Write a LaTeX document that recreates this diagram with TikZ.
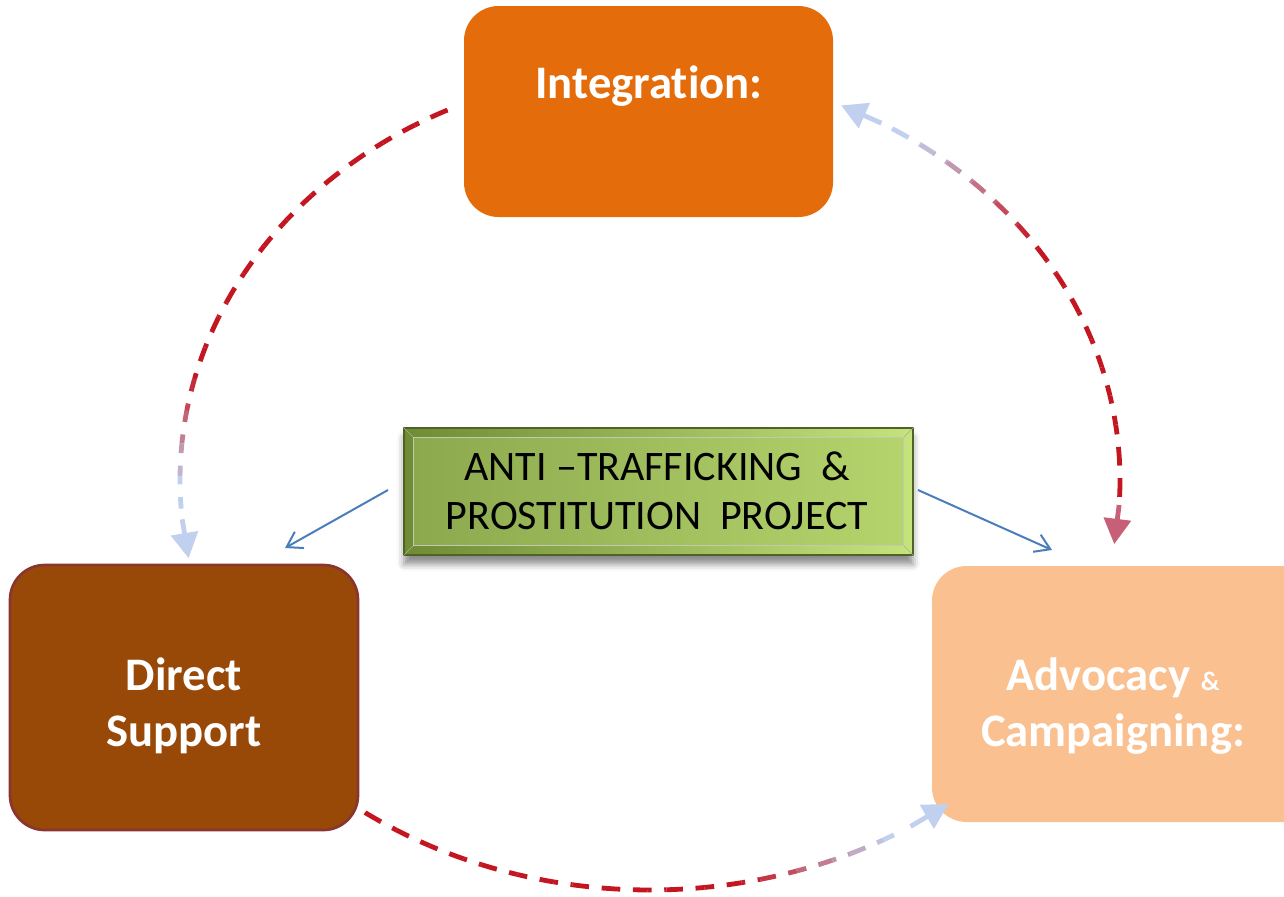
\documentclass[tikz,border=0pt]{standalone}
\usepackage{fontspec}
\setmainfont{Carlito}[Ligatures=NoCommon]
\usetikzlibrary{arrows.meta,shadows.blur,calc}
\definecolor{intorange}{HTML}{E46C0A}
\definecolor{dsbrown}{HTML}{984807}
\definecolor{dsborder}{HTML}{8A3630}
\definecolor{advpeach}{HTML}{FAC090}
\definecolor{dred}{RGB}{195,22,32}
\definecolor{lblue}{RGB}{192,208,238}
\definecolor{pinkred}{RGB}{200,95,120}
\definecolor{arblue}{HTML}{4A7EBB}
\definecolor{gdark}{HTML}{4F6228}
\definecolor{gouterL}{HTML}{6F8C35}
\definecolor{gouterR}{HTML}{C5E47C}
\definecolor{ginnerL}{HTML}{8CA94E}
\definecolor{ginnerR}{HTML}{B5D46C}
% gradient dashed elliptical arc: #1 start angle, #2 end angle, #3 s0, #4 s1, #5 direction (0 red->blue, 1 blue->red)
\newcommand\gradarc[5]{%
 \foreach \i in {0,...,29}{%
  \pgfmathsetmacro\ta{#1+(#2-(#1))*\i/30}%
  \pgfmathsetmacro\tb{#1+(#2-(#1))*(\i+1)/30}%
  \pgfmathsetmacro\sm{(\i+0.5)/30}%
  \pgfmathsetmacro\pb{min(max((\sm-#3)/(#4-#3),0),1)*100}%
  \ifnum#5=1 \pgfmathsetmacro\pb{100-\pb}\fi
  \begin{scope}
   \clip (\acx,\acy) -- ({\acx+1.6*\arx*cos(\ta)},{\acy-1.6*\ary*sin(\ta)}) -- ({\acx+1.6*\arx*cos(\tb)},{\acy-1.6*\ary*sin(\tb)}) -- cycle;
   \draw[arcline, draw=lblue!\pb!dred] plot[domain=#1:#2, samples=90] ({\acx+\arx*cos(\x)},{\acy-\ary*sin(\x)});
  \end{scope}
 }}
\begin{document}
\begin{tikzpicture}[x=0.75pt,y=-0.75pt,
  arcline/.style={line width=3.6pt, dash pattern=on 14pt off 9.5pt},
  tipline/.style={line width=3.6pt, -{Triangle[length=19pt,width=20pt]}},
  boxtext/.style={font=\fontsize{35}{42}\selectfont\bfseries, text=white, align=center, inner sep=0pt},
  bluearrow/.style={draw=arblue, line width=1.5pt, -{Straight Barb[length=11pt,width=14pt]}},
  ]
\useasboundingbox (0,0) rectangle (1284,896);

% boxes
\node[fill=intorange, rounded corners=26pt, minimum width=276.75pt, minimum height=158.25pt, inner sep=0pt] (intg) at (648.5,111.5) {};
\node[fill=dsbrown, draw=dsborder, line width=2pt, rounded corners=26pt, minimum width=261pt, minimum height=198.75pt, inner sep=0pt] (ds) at (184,697.5) {};
\node[fill=advpeach, rounded corners=26pt, minimum width=291pt, minimum height=192pt, inner sep=0pt] (adv) at (1126,694) {};

\node[boxtext] (intgT) at (649,86) {Integrat\kern0pt ion:};
\node[boxtext] (dsT) at (184,706) {Direct\\Support};
\node[boxtext] (advT) at (1113,706) {Advocacy {\fontsize{20}{24}\selectfont\&}\\Campaigning:};

% green centre box
\node[draw=gdark, line width=1pt, left color=gouterL, right color=gouterR, minimum width=381.75pt, minimum height=95.25pt, inner sep=0pt,
      blur shadow={shadow xshift=0pt, shadow yshift=-7pt, shadow blur radius=5pt, shadow opacity=45}] (gbox) at (658.5,491.5) {};
\shade[left color=ginnerL, right color=ginnerR] ($(gbox.north west)+(10,10)$) rectangle ($(gbox.south east)+(-10,-10)$);
\draw[gdark!50, line width=0.5pt] (gbox.north west) -- ($(gbox.north west)+(10,10)$)
   (gbox.north east) -- ($(gbox.north east)+(-10,10)$)
   (gbox.south west) -- ($(gbox.south west)+(10,-10)$)
   (gbox.south east) -- ($(gbox.south east)+(-10,-10)$);
\draw[gdark!35, line width=0.4pt] ($(gbox.north west)+(10,10)$) rectangle ($(gbox.south east)+(-10,-10)$);
\node[font=\fontsize{31.5}{37}\selectfont, align=center, inner sep=0pt] (gT) at (657,491) {ANTI –TRAFFICKING\ \ \&\\PROSTITUTION\ \ PROJECT};

% blue arrows
\coordinate (bLs) at (388,490);
\coordinate (bLe) at (285,548);
\coordinate (bRs) at (918,490);
\coordinate (bRe) at (1052,550);
\draw[bluearrow] (bLs) -- (bLe);
\draw[bluearrow] (bRs) -- (bRe);

% left arc: Integration -> Direct Support
\def\acx{650}\def\acy{480}\def\arx{470}\def\ary{410}
\gradarc{115.5}{184}{0.72}{0.95}{0}
\coordinate (lA) at ({650+470*cos(185.5)},{480-410*sin(185.5)});
\coordinate (lB) at ({650+470*cos(191)},{480-410*sin(191)});
\draw[tipline, lblue] (lA) -- (lB);

% right arc: Integration <-> Advocacy
\gradarc{59}{-2.5}{0.05}{0.38}{1}
\coordinate (rA) at ({650+470*cos(60.5)},{480-410*sin(60.5)});
\coordinate (rB) at ({650+470*cos(66)},{480-410*sin(66)});
\draw[tipline, lblue] (rA) -- (rB);
\coordinate (rC) at ({650+470*cos(-3.5)},{480-410*sin(-3.5)});
\coordinate (rD) at ({650+470*cos(-9)},{480-410*sin(-9)});
\draw[tipline, pinkred] (rC) -- (rD);

% bottom arc: Direct Support -> Advocacy
\def\acx{650}\def\acy{484}\def\arx{485}\def\ary{406}
\gradarc{234}{301}{0.7}{0.97}{0}
\coordinate (bA) at ({650+485*cos(302.5)},{484-406*sin(302.5)});
\coordinate (bB) at ({650+485*cos(308)},{484-406*sin(308)});
\draw[tipline, lblue] (bA) -- (bB);
\end{tikzpicture}
\end{document}
